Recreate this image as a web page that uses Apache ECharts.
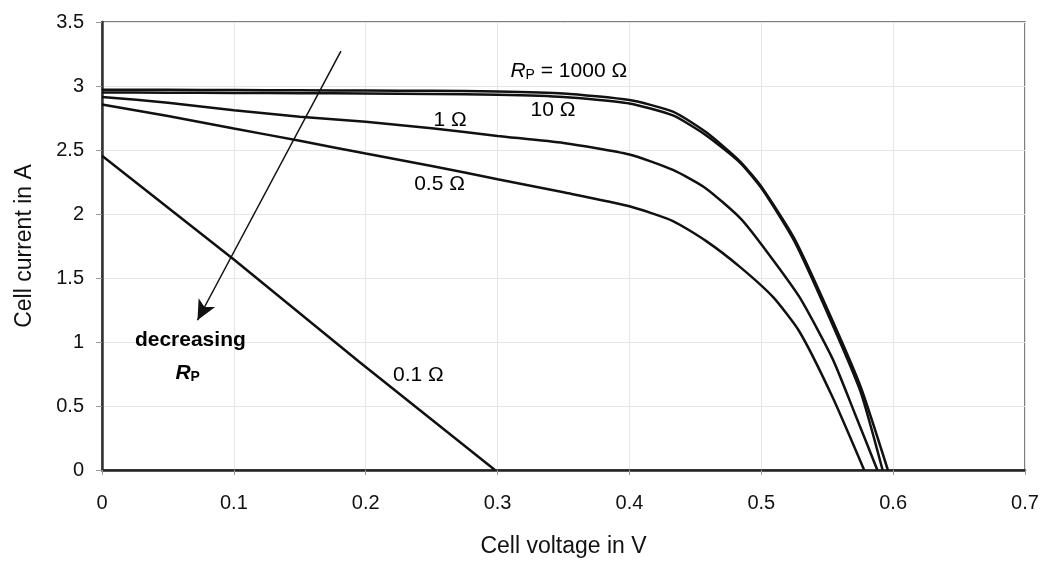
<!DOCTYPE html>
<html>
<head>
<meta charset="utf-8">
<script src="https://cdn.jsdelivr.net/npm/echarts@6/dist/echarts.min.js"></script>
<style>
  html, body { margin: 0; padding: 0; background: #fff; }
  #chart { width: 1047px; height: 563px; }
</style>
</head>
<body>
<div id="chart"></div>
<script>
// I-V curves for different parallel resistances [voltage V, current A]
const rp1000 = [[0, 2.97], [0.05, 2.97], [0.1, 2.968], [0.15, 2.966], [0.2, 2.964], [0.25, 2.962], [0.3, 2.958], [0.35, 2.942], [0.4, 2.89], [0.433, 2.8], [0.458, 2.64], [0.484, 2.41], [0.501, 2.2], [0.525, 1.81], [0.55, 1.26], [0.575, 0.66], [0.596, 0]]
const rp10 = [[0, 2.95], [0.05, 2.948], [0.1, 2.946], [0.15, 2.944], [0.2, 2.942], [0.25, 2.938], [0.3, 2.932], [0.35, 2.915], [0.4, 2.864], [0.433, 2.77], [0.458, 2.616], [0.484, 2.4], [0.501, 2.19], [0.525, 1.79], [0.55, 1.23], [0.575, 0.62], [0.592, 0]]
const rp1 = [[0, 2.914], [0.05, 2.87], [0.1, 2.81], [0.15, 2.76], [0.2, 2.72], [0.25, 2.67], [0.3, 2.61], [0.35, 2.555], [0.4, 2.465], [0.433, 2.344], [0.458, 2.2], [0.484, 1.968], [0.501, 1.75], [0.529, 1.35], [0.554, 0.87], [0.571, 0.44], [0.588, 0]]
const rp05 = [[0, 2.855], [0.05, 2.765], [0.1, 2.668], [0.15, 2.572], [0.2, 2.472], [0.25, 2.375], [0.3, 2.272], [0.35, 2.17], [0.4, 2.06], [0.433, 1.945], [0.458, 1.79], [0.484, 1.585], [0.509, 1.35], [0.529, 1.08], [0.554, 0.57], [0.578, 0]]
const rp01 = [[0, 2.455], [0.1, 1.645], [0.195, 0.845], [0.298, 0]]

// curve labels: [voltage, current, text]
const labels = [
  [0.354, 3.115, '{i|R}{s|P}{n| = 1000 Ω}'],
  [0.342, 2.81, '10 Ω'],
  [0.264, 2.73, '1 Ω'],
  [0.256, 2.23, '0.5 Ω'],
  [0.24, 0.74, '0.1 Ω'],
  [0.067, 1.015, '{b|decreasing}'],
  [0.065, 0.755, '{bi|R}{bs|P}']
]

// arrow "decreasing Rp"
const arrowFrom = [0.1812, 3.273]
const arrowTo = [0.0724, 1.17]

const font = 'Liberation Sans, Arial, sans-serif'
const curves = [rp1000, rp10, rp1, rp05]

const chart = echarts.init(document.getElementById('chart'))

chart.setOption({
  animation: false,
  grid: {
    left: 102,
    right: 22,
    top: 22,
    bottom: 91,
    show: true,
    borderColor: '#555',
    borderWidth: 1.5
  },
  xAxis: {
    type: 'value',
    min: 0,
    max: 0.7,
    interval: 0.1,
    name: 'Cell voltage in V',
    nameLocation: 'middle',
    nameGap: 65,
    nameTextStyle: { fontFamily: font, fontSize: 23, color: '#111' },
    axisLine: { lineStyle: { color: '#222', width: 2.5 } },
    axisTick: { show: true, length: 5, lineStyle: { color: '#999' } },
    axisLabel: {
      margin: 23,
      fontFamily: font,
      fontSize: 20,
      color: '#111',
      formatter: (v) => String(+v.toFixed(1))
    },
    splitLine: { show: true, lineStyle: { color: '#e6e6e6', width: 1 } }
  },
  yAxis: {
    type: 'value',
    min: 0,
    max: 3.5,
    interval: 0.5,
    name: 'Cell current in A',
    nameLocation: 'middle',
    nameGap: 66,
    nameTextStyle: { fontFamily: font, fontSize: 23, color: '#111' },
    axisLine: { show: true, lineStyle: { color: '#333', width: 2.5 } },
    axisTick: { show: true, length: 6, lineStyle: { color: '#999' } },
    axisLabel: {
      margin: 18,
      fontFamily: font,
      fontSize: 20,
      color: '#111',
      formatter: (v) => String(+v.toFixed(1))
    },
    splitLine: { show: true, lineStyle: { color: '#e6e6e6', width: 1 } }
  },
  series: [
    ...curves.map((d) => ({
      type: 'line',
      data: d,
      smooth: 0.2,
      showSymbol: false,
      lineStyle: { color: '#111', width: 2.5 }
    })),
    {
      type: 'line',
      data: rp01,
      showSymbol: false,
      lineStyle: { color: '#111', width: 2.5 }
    },
    {
      type: 'scatter',
      symbolSize: 0,
      itemStyle: { color: '#000', opacity: 1 },
      data: labels.map((l) => ({ value: [l[0], l[1]], name: l[2] })),
      label: {
        show: true,
        position: 'inside',
        formatter: '{b}',
        fontFamily: font,
        fontSize: 21,
        color: '#000',
        opacity: 1,
        rich: {
          i: { fontFamily: font, fontSize: 21, fontStyle: 'italic', color: '#000' },
          s: { fontFamily: font, fontSize: 14, color: '#000', padding: [8, 0, 0, 0] },
          n: { fontFamily: font, fontSize: 21, color: '#000' },
          b: { fontFamily: font, fontSize: 21, fontWeight: 'bold', color: '#000' },
          bi: { fontFamily: font, fontSize: 21, fontWeight: 'bold', fontStyle: 'italic', color: '#000' },
          bs: { fontFamily: font, fontSize: 14, fontWeight: 'bold', color: '#000', padding: [8, 0, 0, 0] }
        }
      },
      markLine: {
        silent: true,
        symbol: ['none', 'arrow'],
        symbolSize: [14, 20],
        label: { show: false },
        lineStyle: { color: '#111', width: 1.5, type: 'solid', opacity: 1 },
        data: [[{ coord: arrowFrom }, { coord: arrowTo }]]
      }
    }
  ]
})
</script>
</body>
</html>
